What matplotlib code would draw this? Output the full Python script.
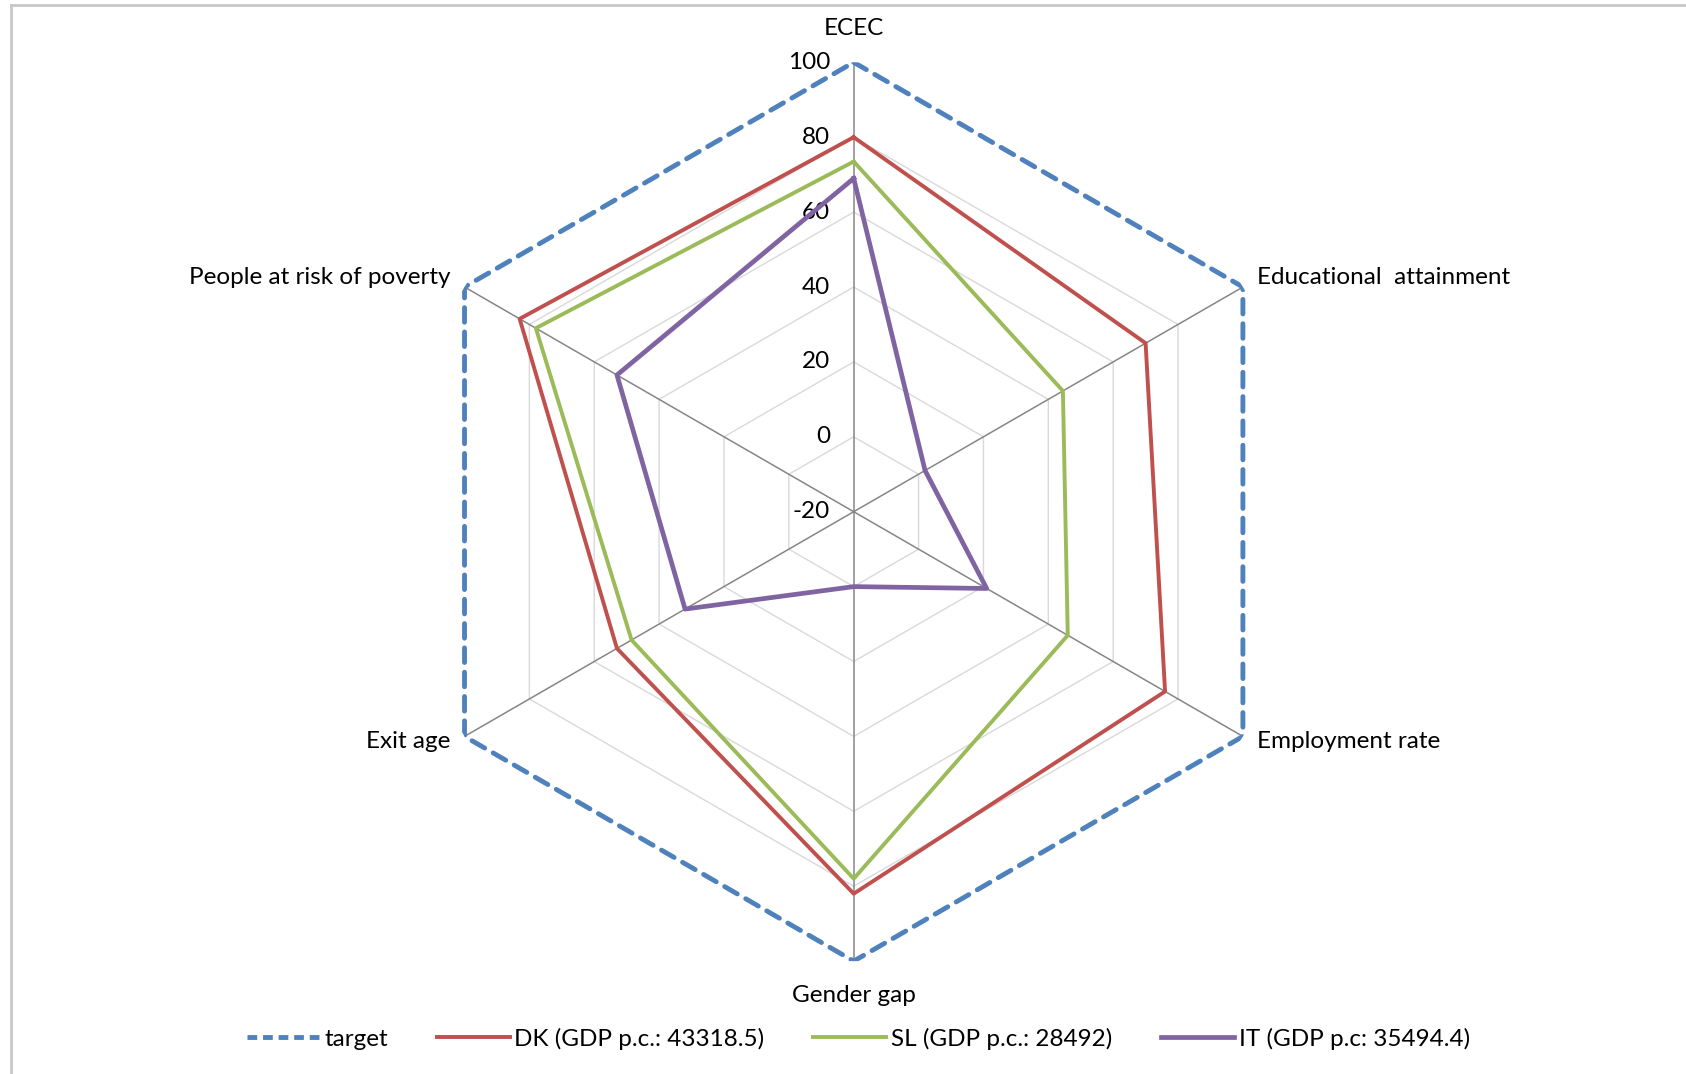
import numpy as np
import matplotlib
matplotlib.use("Agg")
import matplotlib.pyplot as plt
from matplotlib.lines import Line2D

plt.rcParams['font.family'] = ['Lato', 'DejaVu Sans']

# axes of the radar, clockwise from the top
categories = ["ECEC", "Educational  attainment", "Employment rate",
              "Gender gap", "Exit age", "People at risk of poverty"]
target = [100, 100, 100, 100, 100, 100]
dk = [80, 70, 76, 82, 53, 83]
sl = [73.5, 44.5, 46, 78, 48.5, 78]
it = [69, 2, 21, 0, 32, 53]
grid_levels = [-20, 0, 20, 40, 60, 80, 100]

series_labels = ["target", "DK (GDP p.c.: 43318.5)", "SL (GDP p.c.: 28492)",
                 "IT (GDP p.c: 35494.4)"]

angles = np.linspace(0, 2 * np.pi, len(categories), endpoint=False)
closed = np.append(angles, angles[0])

def close(v):
    return list(v) + [v[0]]

fig = plt.figure(figsize=(16.86, 10.74), dpi=100)
ax = fig.add_axes([0.2398, 0.1051, 0.5331, 0.8369], projection='polar')
ax.set_theta_zero_location('N')
ax.set_theta_direction(-1)
ax.set_ylim(-20, 100)
ax.grid(False)
ax.spines['polar'].set_visible(False)
ax.set_xticks([])
ax.set_yticks([])

# hexagonal grid and spokes
for lv in grid_levels[1:-1]:
    ax.plot(closed, [lv] * len(closed), color='#d9d9d9', lw=1.0, zorder=1)
for a in angles:
    ax.plot([a, a], [-20, 100], color='#868686', lw=1.1, zorder=2)

# radial tick labels on the top spoke
for lv in grid_levels:
    ax.annotate(str(lv), xy=(0, lv), xytext=(-17, 0), textcoords='offset points',
                ha='right', va='center', fontsize=17.5)

blue, red, green, purple = '#4F81BD', '#C0504D', '#9BBB59', '#8064A2'
ax.plot(closed, close(target), color=blue, lw=3.5, ls=(0, (3, 2)),
        solid_capstyle='round', dash_capstyle='round', zorder=3)
ax.plot(closed, close(dk), color=red, lw=2.8, zorder=4)
ax.plot(closed, close(sl), color=green, lw=2.8, zorder=5)
ax.plot(closed, close(it), color=purple, lw=3.4, zorder=6)

# category labels just outside the outer hexagon
offsets = [(0, 17, 'center', 'bottom'), (10, 7, 'left', 'center'),
           (10, -4, 'left', 'center'), (0, -17, 'center', 'top'),
           (-10, -4, 'right', 'center'), (-10, 7, 'right', 'center')]
for a, name, (dx, dy, ha, va) in zip(angles, categories, offsets):
    ax.annotate(name, xy=(a, 100), xytext=(dx, dy), textcoords='offset points',
                ha=ha, va=va, fontsize=17.5, annotation_clip=False)

handles = [Line2D([], [], color=blue, lw=3.5, ls=(0, (2, 1.2))),
           Line2D([], [], color=red, lw=2.8),
           Line2D([], [], color=green, lw=2.8),
           Line2D([], [], color=purple, lw=3.4)]
fig.legend(handles, series_labels, loc='center', bbox_to_anchor=(0.509, 0.033),
           ncol=4, frameon=False, fontsize=17.5, handlelength=3.0,
           handletextpad=0.2, columnspacing=2.0)

# chart border (top and left visible)
fig.add_artist(Line2D([0.0063, 0.0063], [0, 0.9955], color='#c8c8c8', lw=2,
                      transform=fig.transFigure))
fig.add_artist(Line2D([0.0063, 1], [0.9955, 0.9955], color='#c8c8c8', lw=2,
                      transform=fig.transFigure))

fig.savefig("out.png", dpi=100)
